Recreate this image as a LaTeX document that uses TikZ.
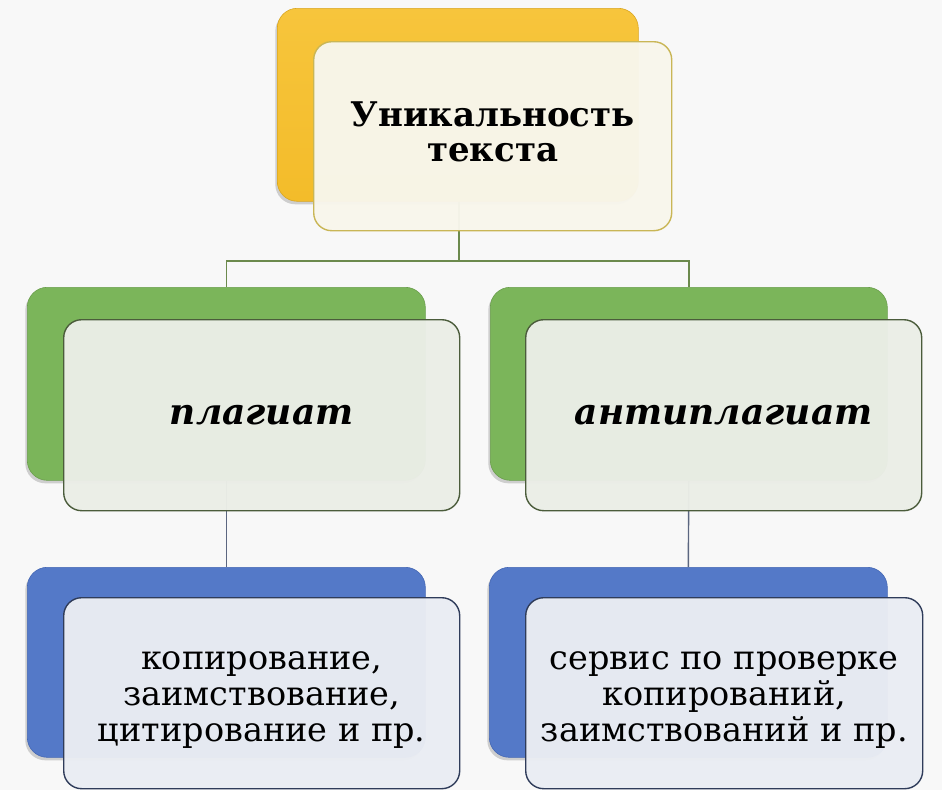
\documentclass[tikz,border=0pt]{standalone}
\usepackage{fontspec}
\setmainfont{DejaVu Serif}
\usetikzlibrary{shadows}
\definecolor{bgc}{HTML}{F8F8F8}
\definecolor{yelb}{HTML}{F3BC2A}
\definecolor{yelt}{HTML}{F7C53C}
\definecolor{yelbd}{HTML}{D9A620}
\definecolor{yelfr}{HTML}{C9B656}
\definecolor{yelfill}{HTML}{F8F6EC}
\definecolor{grnb}{HTML}{7BB55A}
\definecolor{grnbd}{HTML}{6A9E4C}
\definecolor{grnfr}{HTML}{4B5C3B}
\definecolor{grnfill}{HTML}{EBEEE7}
\definecolor{blub}{HTML}{5479C8}
\definecolor{blubd}{HTML}{4467B4}
\definecolor{blufr}{HTML}{2F3C5A}
\definecolor{blufill}{HTML}{EAEDF3}
\definecolor{lineg}{HTML}{6C8A4D}
\definecolor{lineb}{HTML}{5B6680}
\begin{document}
\begin{tikzpicture}[x=1pt,y=-1pt,
  backbox/.style={rounded corners=20pt, minimum width=#1, anchor=north west, inner sep=0pt,
    drop shadow={shadow xshift=-2pt, shadow yshift=-3pt, opacity=0.35}},
  frontbox/.style={rounded corners=18pt, anchor=north west, inner sep=0pt, line width=1.4pt,
    fill opacity=0.97},
  conn/.style={line width=1.4pt},
  toptext/.style={align=center, inner sep=0pt, font=\fontsize{34}{35}\selectfont\bfseries},
  midtext/.style={align=center, inner sep=0pt, font=\fontsize{36}{40}\selectfont\bfseries\itshape},
  lowtext/.style={align=center, inner sep=0pt, font=\fontsize{33.5}{36}\selectfont}
]
\fill[bgc] (0,0) rectangle (942,790);
\useasboundingbox (0,0) rectangle (942,790);

% back boxes
\node[backbox=361pt, minimum height=193pt, top color=yelt, bottom color=yelb, draw=yelbd, line width=0.6pt] (tb) at (277,8) {};
\node[backbox=398pt, minimum height=193pt, fill=grnb, draw=grnbd, line width=0.6pt] (glb) at (27,287) {};
\node[backbox=397pt, minimum height=193pt, fill=grnb, draw=grnbd, line width=0.6pt] (grb) at (490,287) {};
\node[backbox=398pt, minimum height=190pt, fill=blub, draw=blubd, line width=0.6pt] (blb) at (27,567) {};
\node[backbox=398pt, minimum height=190pt, fill=blub, draw=blubd, line width=0.6pt] (brb) at (489,567) {};

% connectors
\coordinate (hub) at (459,261);
\draw[conn, lineg] (tb.south -| hub) -- (hub);
\draw[conn, lineg] (hub) -| (glb.north);
\draw[conn, lineg] (hub) -| (grb.north);
\draw[conn, lineb] (glb.south) -- (blb.north);
\draw[conn, lineb] (grb.south) -- (brb.north);

% front boxes
\node[frontbox, minimum width=358pt, minimum height=189pt, fill=yelfill, draw=yelfr] (tf) at (313,41) {};
\node[frontbox, minimum width=396pt, minimum height=191pt, fill=grnfill, draw=grnfr] (glf) at (63,319) {};
\node[frontbox, minimum width=396pt, minimum height=191pt, fill=grnfill, draw=grnfr] (grf) at (525,319) {};
\node[frontbox, minimum width=396pt, minimum height=191pt, fill=blufill, draw=blufr] (blf) at (63,597) {};
\node[frontbox, minimum width=397pt, minimum height=191pt, fill=blufill, draw=blufr] (brf) at (525,597) {};

% texts
\node[toptext] (tft) at ([yshift=4pt]tf.center) {Уникальность\\текста};
\node[midtext] (glt) at (glf.center) {плагиат};
\node[midtext] (grt) at (grf.center) {антиплагиат};
\node[lowtext] (blt) at ([yshift=-7pt]blf.center) {копирование,\\заимствование,\\цитирование и пр.};
\node[lowtext] (brt) at ([yshift=-7pt]brf.center) {сервис по проверке\\копирований,\\заимствований и пр.};
\end{tikzpicture}
\end{document}
